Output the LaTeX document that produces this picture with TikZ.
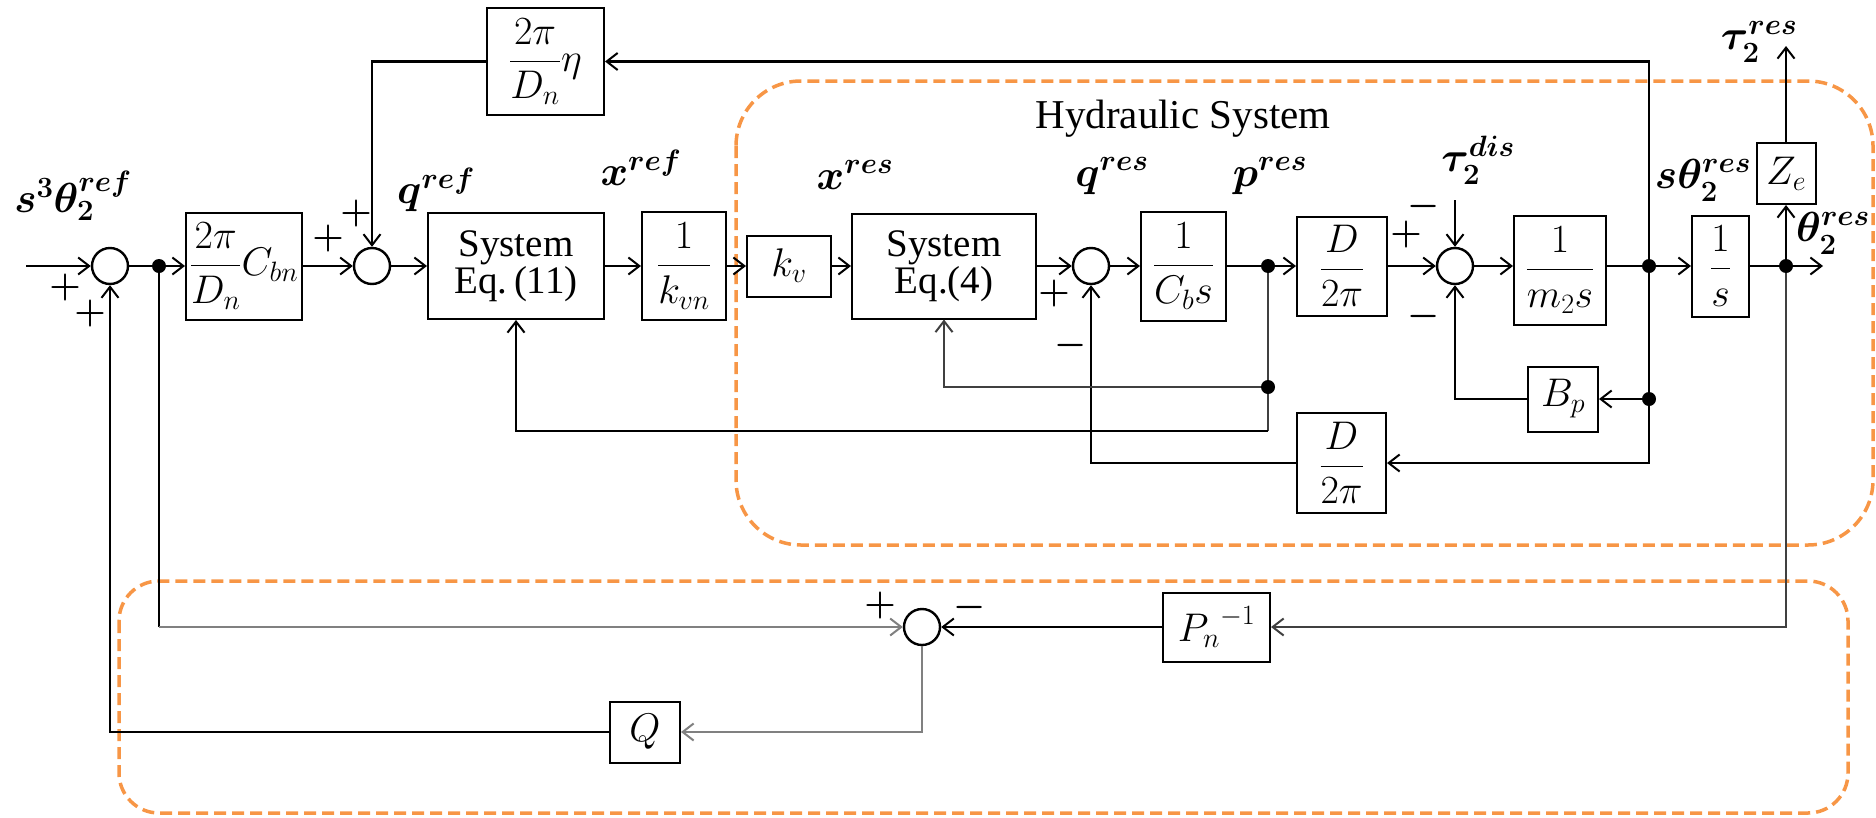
\RequirePackage{fix-cm}
\documentclass[tikz,border=0pt]{standalone}
\usepackage{fontspec}
\setmainfont{Liberation Serif}
\usepackage{amsmath}
\usetikzlibrary{arrows.meta}
\definecolor{orng}{HTML}{F79646}
\definecolor{gry}{HTML}{808080}
\definecolor{dgry}{HTML}{404040}
\newcommand\boxfs{\fontsize{39}{43}\selectfont}
\newcommand\mathfs{\fontsize{40}{44}\selectfont}
\newcommand\lblfs{\fontsize{42}{46}\selectfont\boldmath}
\newcommand\sgnfs{\fontsize{36}{40}\selectfont\boldmath}
\newcommand\ttlfs{\fontsize{41}{46}\selectfont}
\begin{document}
\begin{tikzpicture}[x=1pt,y=-1pt,
  >={Straight Barb[length=11pt,width=17pt,line width=2pt]},
  line width=2.2pt,
  bx/.style n args={2}{draw,line width=2pt,minimum width=#1,minimum height=#2,inner sep=0pt,font=\mathfs,align=center},
  tbx/.style n args={2}{bx={#1}{#2},font=\boxfs},
  sm/.style={circle,draw,line width=2.4pt,minimum size=36pt,inner sep=0pt},
  lbl/.style={inner sep=0pt,font=\lblfs},
  sgn/.style={inner sep=0pt,font=\sgnfs},
  hbox/.style={draw=orng,line width=3.5pt,dash pattern=on 12pt off 6pt}]
\useasboundingbox (0,0) rectangle (1876,817);

% orange dashed groups
\draw[hbox,rounded corners=65pt] (736,81) rectangle (1873,545);
\draw[hbox,rounded corners=40pt] (119,581) rectangle (1848,813);
\node[font=\ttlfs,inner sep=0pt] (title) at (1183,119) {Hydraulic System};

% blocks
\node[bx={117pt}{107pt}] (eta) at (545.5,61.5) {$\dfrac{2\pi}{D_n}\eta$};
\node[bx={116pt}{107pt}] (cbn) at (244,266) {$\dfrac{2\pi}{D_n}C_{bn}$};
\node[tbx={176pt}{106pt}] (sys11) at (516,266) {System\\[-6pt]Eq.\,(11)};
\node[bx={84pt}{108pt}] (kvn) at (684,266) {$\dfrac{1}{k_{vn}}$};
\node[bx={84pt}{61pt}] (kv) at (789,266) {$k_v$};
\node[tbx={184pt}{105pt}] (sys4) at (944,266) {System\\[-6pt]Eq.(4)};
\node[bx={85pt}{109pt}] (cbs) at (1183.5,266) {$\dfrac{1}{C_b s}$};
\node[bx={90pt}{99pt}] (dpi) at (1342,266) {$\dfrac{D}{2\pi}$};
\node[bx={92pt}{109pt}] (m2s) at (1560,270) {$\dfrac{1}{m_2 s}$};
\node[bx={57pt}{101pt}] (ints) at (1720.5,266) {$\dfrac{1}{s}$};
\node[bx={59pt}{61pt}] (ze) at (1786,173.5) {$Z_e$};
\node[bx={70pt}{65pt}] (bp) at (1563,399) {$B_p$};
\node[bx={89pt}{100pt}] (dpil) at (1341.5,463) {$\dfrac{D}{2\pi}$};
\node[bx={107pt}{69pt}] (pn) at (1216.5,627) {${P_n}^{-1}$};
\node[bx={70pt}{61pt}] (q) at (645,732) {$Q$};

% summing junctions
\node[sm] (s1) at (110,266) {};
\node[sm] (s2) at (372,266) {};
\node[sm] (s3) at (1091,266) {};
\node[sm] (s4) at (1455,266) {};
\node[sm] (s5) at (922,627) {};

% branch points
\coordinate (d1) at (159,266);
\coordinate (d2) at (1268,266);
\coordinate (d3) at (1268,387);
\coordinate (d4) at (1649,266);
\coordinate (d5) at (1649,399);
\coordinate (d6) at (1786,266);
\coordinate (in) at (26,266);
\coordinate (dis) at (1455,200);
\coordinate (out) at (1823,266);
\coordinate (tauout) at (1786,46);
\coordinate (c1) at (1268,431);

% forward path
\draw[->] (in) -- (s1.west);
\draw (s1.east) -- (d1);
\draw[->] (d1) -- (cbn.west);
\draw[->] (cbn.east) -- (s2.west);
\draw[->] (s2.east) -- (sys11.west);
\draw[->] (sys11.east) -- (kvn.west);
\draw[->] (kvn.east) -- (kv.west);
\draw[->] (kv.east) -- (sys4.west);
\draw[->] (sys4.east) -- (s3.west);
\draw[->] (s3.east) -- (cbs.west);
\draw (cbs.east) -- (d2);
\draw[->] (d2) -- (dpi.west);
\draw[->] (dpi.east) -- (s4.west);
\draw[->] (dis) -- (s4.north);
\draw[->] (s4.east) -- (m2s.west |- s4.east);
\draw (m2s.east |- d4) -- (d4);
\draw[->] (d4) -- (ints.west);
\draw (ints.east) -- (d6);
\draw[->] (d6) -- (out);
\draw[->] (d6) -- (ze.south);
\draw[->] (ze.north) -- (tauout);

% feedback paths
\draw[->] (d4) |- (eta.east);
\draw[->] (eta.west) -| (s2.north);
\draw (d4) -- (d5);
\draw[->] (d5) -- (bp.east);
\draw[->] (bp.west) -| (s4.south);
\draw[->] (d5) |- (dpil.east);
\draw[->] (dpil.west) -| (s3.south);
\draw[dgry,line width=1.8pt] (d2) -- (c1);
\draw[->,dgry,line width=1.8pt] (d3) -| (sys4.south);
\draw[->] (c1) -| (sys11.south);

% lower loop
\draw (d1) -- (d1 |- s5.west);
\draw[->,gry] (d1 |- s5.west) -- (s5.west);
\draw[->,dgry] (d6) |- (pn.east);
\draw[->] (pn.west) -- (s5.east);
\draw[->,gry] (s5.south) |- (q.east);
\draw[->] (q.west) -| (s1.south);

% dots
\foreach \p in {d1,d2,d3,d4,d5,d6} \fill (\p) circle (7pt);

% signal labels
\node[lbl] (l1) at (73,196) {$s^3\theta_2^{ref}$};
\node[lbl] (l2) at (436,190) {$q^{ref}$};
\node[lbl] (l3) at (641,168) {$x^{ref}$};
\node[lbl] (l4) at (855,175) {$x^{res}$};
\node[lbl] (l5) at (1112,176) {$q^{res}$};
\node[lbl] (l6) at (1270,176) {$p^{res}$};
\node[lbl] (l7) at (1478,160) {$\tau_2^{dis}$};
\node[lbl] (l8) at (1703,180) {$s\theta_2^{res}$};
\node[lbl] (l9) at (1833,233) {$\theta_2^{res}$};
\node[lbl] (l10) at (1759,42) {$\tau_2^{res}$};

% signs
\node[sgn] (g1) at (65,287) {$+$};
\node[sgn] (g2) at (90,313) {$+$};
\node[sgn] (g3) at (328,238) {$+$};
\node[sgn] (g4) at (356,213) {$+$};
\node[sgn] (g5) at (1054,293) {$+$};
\node[sgn] (g6) at (1071,345) {$-$};
\node[sgn] (g7) at (1406,234) {$+$};
\node[sgn] (g8) at (1424,206) {$-$};
\node[sgn] (g9) at (1424,316) {$-$};
\node[sgn] (g10) at (880,605) {$+$};
\node[sgn] (g11) at (970,607) {$-$};
\end{tikzpicture}
\end{document}
